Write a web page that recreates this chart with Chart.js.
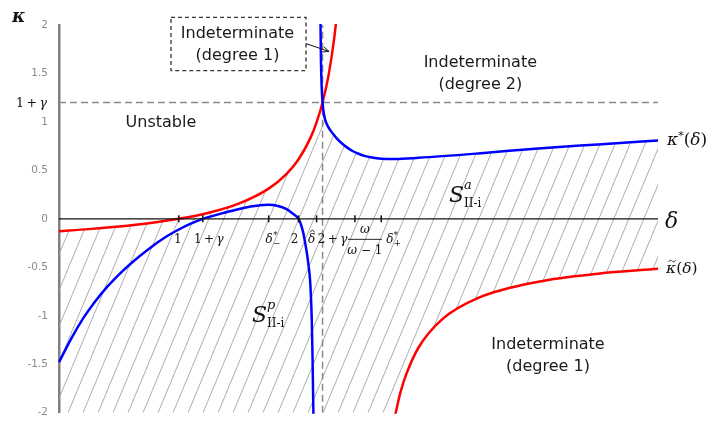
<!DOCTYPE html>
<html>
<head>
<meta charset="utf-8">
<script src="https://cdn.jsdelivr.net/npm/chart.js@4/dist/chart.umd.min.js"></script>
<style>
  html, body { margin: 0; padding: 0; background: #ffffff; }
  canvas { display: block; }
</style>
</head>
<body>
<canvas id="c" width="714" height="430"></canvas>
<script>
// ---- parameters and axis ranges ----
const gamma = 0.2;
const deltaRange = [0, 5];
const kappaRange = [-2, 2];
const yTicks = [-2, -1.5, -1, -0.5, 0, 0.5, 1, 1.5, 2];

// ---- kappa-tilde(delta): branch left of the pole ----
const tildeLeftDelta = [0, 0.25, 0.5, 0.75, 1.0, 1.25, 1.5, 1.75, 1.9, 2.0, 2.1, 2.15, 2.2, 2.25, 2.3, 2.33];
const tildeLeftKappa = [-0.127, -0.106, -0.079, -0.045, 0, 0.063, 0.157, 0.312, 0.465, 0.615, 0.838, 0.995, 1.2, 1.48, 1.89, 2.24];
// ---- kappa-tilde(delta): branch right of the pole ----
const tildeRightDelta = [2.8, 2.85, 2.9, 3.0, 3.2, 3.5, 4.0, 4.5, 5.0];
const tildeRightKappa = [-2.06, -1.79, -1.6, -1.33, -1.035, -0.816, -0.649, -0.566, -0.516];

// ---- kappa*(delta): lower branch ----
const starLowerDelta = [0, 0.1, 0.2, 0.3, 0.4, 0.5, 0.6, 0.76, 0.9, 1.0, 1.1, 1.2, 1.4, 1.55, 1.65, 1.75, 1.82, 1.9, 1.95, 2.0,
  2.02, 2.04, 2.055, 2.07, 2.085, 2.095, 2.103, 2.11, 2.116, 2.121, 2.124, 2.127];
const starLowerKappa = [-1.48, -1.24, -1.03, -0.855, -0.705, -0.575, -0.46, -0.3, -0.18, -0.11, -0.05, 0, 0.07, 0.115, 0.135, 0.145, 0.135, 0.1, 0.055, 0,
  -0.06, -0.15, -0.25, -0.36, -0.5, -0.62, -0.8, -1.05, -1.4, -1.8, -2.05, -2.4];
// ---- kappa*(delta): upper branch ----
const starUpperDelta = [2.18, 2.183, 2.187, 2.193, 2.2, 2.21, 2.225, 2.24, 2.254, 2.27, 2.29, 2.32, 2.36, 2.4, 2.45, 2.5, 2.55, 2.6, 2.69, 2.8, 3.0, 3.5, 4.0, 4.5, 5.0];
const starUpperKappa = [2.7, 2.0, 1.61, 1.35, 1.2, 1.09, 1.01, 0.965, 0.935, 0.905, 0.872, 0.828, 0.78, 0.74, 0.7, 0.672, 0.65, 0.635, 0.62, 0.618, 0.63, 0.675, 0.727, 0.768, 0.808];

// ---- marked points on the delta axis ----
const xTickValues = [1, 1 + gamma, 1.75, 2, 2.15, 2 + gamma, 2.47, 2.69];
const xTickLabels = ['1', '1+γ', 'δ*−', '2', 'δ̂', '2+γ', 'ω/(ω−1)', 'δ*+'];
const xTickMarked = [true, true, true, true, true, false, true, true];
const xLabelShift = [-1, 6, 3, -4, -5, 10, 10, 11];

// ---- region captions (delta, kappa) ----
const captionLines = [
  ['Unstable'],
  ['Indeterminate', '(degree 2)'],
  ['Indeterminate', '(degree 1)'],
  ['Indeterminate', '(degree 1)']
];
const captionDelta = [0.851, 3.517, 4.082, 1.49];
const captionKappa = [0.992, 1.605, -1.301, 1.909];

const SANS = '"DejaVu Sans", Verdana, sans-serif';
const SERIF = '"DejaVu Serif", serif';
const THIN = '\u2009';

const zip = (xs, ys) => xs.map((x, i) => ({ x, y: ys[i] }));
const tildeLeft = zip(tildeLeftDelta, tildeLeftKappa);
const tildeRight = zip(tildeRightDelta, tildeRightKappa);
const starLower = zip(starLowerDelta, starLowerKappa);
const starUpper = zip(starUpperDelta, starUpperKappa);

// boundaries of the shaded (determinate) region
const shadeTop = tildeLeft.filter(p => p.x < 2 + gamma)
  .concat(starUpper.filter(p => p.x >= 2 + gamma));
const shadeBottom = [{ x: deltaRange[0], y: kappaRange[0] }, { x: tildeRightDelta[0], y: kappaRange[0] }]
  .concat(tildeRight.slice(1));

const canvas = document.getElementById('c');
const ctx0 = canvas.getContext('2d');

function hatch() {
  const w = 15, h = 36;
  const c = document.createElement('canvas');
  c.width = w; c.height = h;
  const g = c.getContext('2d');
  g.strokeStyle = '#a3a3a3';
  g.lineWidth = 0.9;
  for (const off of [-w, 0, w]) {
    g.beginPath();
    g.moveTo(off, h);
    g.lineTo(off + w, 0);
    g.stroke();
  }
  return ctx0.createPattern(c, 'repeat');
}

// draw a sequence of text runs: [text, font, dy, advance?]
function runs(ctx, parts, x, y, align) {
  let w = 0;
  for (const p of parts) {
    if (p[3] === false) continue;
    ctx.font = p[1];
    w += ctx.measureText(p[0]).width;
  }
  let cx = align === 'center' ? x - w / 2 : align === 'right' ? x - w : x;
  for (const p of parts) {
    ctx.font = p[1];
    ctx.fillText(p[0], cx, y + (p[2] || 0));
    if (p[3] !== false) cx += ctx.measureText(p[0]).width;
  }
  return cx;
}

const fsx = 12;
const UP = `${fsx}px ${SERIF}`;
const IT = `italic ${fsx}px ${SERIF}`;
const SM = `8.5px ${SERIF}`;

function drawXLabel(ctx, key, cx, base) {
  ctx.textAlign = 'left';
  ctx.textBaseline = 'alphabetic';
  if (key === '1' || key === '2') {
    runs(ctx, [[key, UP]], cx, base, 'center');
  } else if (key === '1+γ' || key === '2+γ') {
    runs(ctx, [[key[0], UP], [THIN + '+' + THIN, UP], ['γ', IT]], cx, base, 'center');
  } else if (key === 'δ̂') {
    ctx.font = IT;
    const w = ctx.measureText('δ').width;
    ctx.fillText('δ', cx - w / 2, base);
    ctx.beginPath();
    ctx.lineWidth = 0.9;
    ctx.moveTo(cx - 1.5, base - 11);
    ctx.lineTo(cx + 0.8, base - 13.5);
    ctx.lineTo(cx + 3, base - 11);
    ctx.stroke();
  } else if (key === 'δ*−' || key === 'δ*+') {
    ctx.font = IT;
    const w = ctx.measureText('δ').width + 5;
    const x0 = cx - w / 2;
    ctx.fillText('δ', x0, base);
    const xs = x0 + ctx.measureText('δ').width + 0.5;
    ctx.font = SM;
    ctx.fillText('*', xs, base - 5);
    ctx.fillText(key[2], xs, base + 3);
  } else if (key === 'ω/(ω−1)') {
    ctx.font = IT;
    const wn = ctx.measureText('ω').width;
    ctx.fillText('ω', cx - wn / 2, base - 10);
    runs(ctx, [['ω', IT], [' − ', UP], ['1', UP]], cx, base + 11, 'center');
    ctx.beginPath();
    ctx.lineWidth = 0.9;
    ctx.moveTo(cx - 17, base - 4);
    ctx.lineTo(cx + 17, base - 4);
    ctx.stroke();
  }
}

const overlay = {
  id: 'overlay',
  afterDatasetsDraw(chart) {
    const { ctx, chartArea: a, scales: { x, y } } = chart;
    ctx.save();
    ctx.fillStyle = '#111';
    ctx.strokeStyle = '#111';

    // delta axis with marked points
    const y0 = y.getPixelForValue(0);
    ctx.beginPath();
    ctx.lineWidth = 1.4;
    ctx.moveTo(x.getPixelForValue(deltaRange[0]), y0);
    ctx.lineTo(x.getPixelForValue(deltaRange[1]), y0);
    ctx.stroke();
    xTickValues.forEach((v, i) => {
      const px = x.getPixelForValue(v);
      if (xTickMarked[i]) {
        ctx.beginPath();
        ctx.lineWidth = 1.5;
        ctx.moveTo(px, y0 - 3.5);
        ctx.lineTo(px, y0 + 3.5);
        ctx.stroke();
      }
      drawXLabel(ctx, xTickLabels[i], px + xLabelShift[i], y0 + 24.5);
    });

    // axis names
    ctx.textAlign = 'left';
    ctx.textBaseline = 'alphabetic';
    ctx.font = `bold italic 18px ${SERIF}`;
    ctx.fillText('κ', a.left - 47, a.top - 3);
    ctx.font = `italic 22px ${SERIF}`;
    ctx.fillText('δ', a.right + 7, y0 + 9);

    // 1 + gamma on the kappa axis
    runs(ctx, [['1', `12.5px ${SERIF}`], [THIN + '+' + THIN, `12.5px ${SERIF}`], ['γ', `italic 12.5px ${SERIF}`]],
      a.left - 12, y.getPixelForValue(1 + gamma) + 4.5, 'right');

    // curve names
    const ks = y.getPixelForValue(starUpperKappa[starUpperKappa.length - 1]);
    runs(ctx, [['κ', `italic 17px ${SERIF}`], ['*', `11px ${SERIF}`, -6], ['(', `17px ${SERIF}`],
      ['δ', `italic 17px ${SERIF}`], [')', `17px ${SERIF}`]], a.right + 9, ks + 4, 'left');
    const kt = y.getPixelForValue(tildeRightKappa[tildeRightKappa.length - 1]);
    const kx = a.right + 8;
    ctx.font = `italic 15.5px ${SERIF}`;
    const kw = ctx.measureText('κ').width;
    runs(ctx, [['κ', `italic 15.5px ${SERIF}`], ['(', `15.5px ${SERIF}`],
      ['δ', `italic 15.5px ${SERIF}`], [')', `15.5px ${SERIF}`]], kx, kt + 4.5, 'left');
    ctx.beginPath();
    ctx.lineWidth = 0.9;
    const tx = kx + kw / 2 + 1, ty = kt - 7;
    ctx.moveTo(tx - 3.5, ty);
    ctx.bezierCurveTo(tx - 2, ty - 2.5, tx - 0.5, ty - 1.5, tx, ty - 0.8);
    ctx.bezierCurveTo(tx + 0.8, ty, tx + 2, ty + 1, tx + 3.5, ty - 1.8);
    ctx.stroke();

    // region names S
    const sLabel = (d, k, sup) => {
      const sx = x.getPixelForValue(d), sy = y.getPixelForValue(k);
      ctx.font = `italic 22px ${SERIF}`;
      ctx.fillText('S', sx, sy);
      const nx = sx + ctx.measureText('S').width;
      ctx.font = `italic 13px ${SERIF}`;
      ctx.fillText(sup, nx, sy - 13);
      ctx.font = `12px ${SERIF}`;
      ctx.fillText('II-i', nx, sy + 5);
    };
    sLabel(3.255, 0.177, 'a');
    sLabel(1.611, -1.068, 'p');

    // captions
    ctx.fillStyle = '#1a1a1a';
    ctx.font = `16px ${SANS}`;
    ctx.textAlign = 'center';
    ctx.textBaseline = 'middle';
    captionLines.forEach((lines, i) => {
      const cx = x.getPixelForValue(captionDelta[i]);
      const cy = y.getPixelForValue(captionKappa[i]);
      lines.forEach((t, j) => ctx.fillText(t, cx, cy + j * 22));
    });

    // dashed frame with pointer into the narrow wedge
    const bx0 = x.getPixelForValue(0.935), bx1 = x.getPixelForValue(2.062);
    const by0 = y.getPixelForValue(2.078), by1 = y.getPixelForValue(1.529);
    ctx.strokeStyle = '#333';
    ctx.lineWidth = 1.3;
    ctx.setLineDash([4, 3]);
    ctx.strokeRect(bx0, by0, bx1 - bx0, by1 - by0);
    ctx.setLineDash([]);
    const ax0 = bx1, ay0 = y.getPixelForValue(1.808);
    const ax1 = x.getPixelForValue(2.254), ay1 = y.getPixelForValue(1.727);
    ctx.strokeStyle = '#111';
    ctx.lineWidth = 1;
    ctx.beginPath();
    ctx.moveTo(ax0, ay0);
    ctx.lineTo(ax1, ay1);
    const ang = Math.atan2(ay1 - ay0, ax1 - ax0);
    ctx.moveTo(ax1 - 7 * Math.cos(ang - 0.4), ay1 - 7 * Math.sin(ang - 0.4));
    ctx.lineTo(ax1, ay1);
    ctx.lineTo(ax1 - 7 * Math.cos(ang + 0.4), ay1 - 7 * Math.sin(ang + 0.4));
    ctx.stroke();
    ctx.restore();
  }
};

const curve = (data, color) => ({
  data, borderColor: color, borderWidth: 2.5, pointRadius: 0, fill: false,
  cubicInterpolationMode: 'monotone', clip: 1
});
const dashed = (data) => ({
  data, borderColor: '#8a8a8a', borderWidth: 1.5, borderDash: [7, 4], pointRadius: 0,
  fill: false, tension: 0
});

new Chart(canvas, {
  type: 'line',
  data: {
    datasets: [
      curve(starUpper, '#0000ff'),
      curve(starLower, '#0000ff'),
      curve(tildeLeft, '#ff0000'),
      curve(tildeRight, '#ff0000'),
      dashed([{ x: deltaRange[0], y: 1 + gamma }, { x: deltaRange[1], y: 1 + gamma }]),
      dashed([{ x: 2 + gamma, y: kappaRange[0] }, { x: 2 + gamma, y: kappaRange[1] }]),
      {
        data: shadeTop, borderWidth: 0, borderColor: 'rgba(0,0,0,0)', pointRadius: 0,
        backgroundColor: hatch(), fill: '+1', cubicInterpolationMode: 'monotone'
      },
      {
        data: shadeBottom, borderWidth: 0, borderColor: 'rgba(0,0,0,0)', pointRadius: 0,
        fill: false, cubicInterpolationMode: 'monotone'
      }
    ]
  },
  options: {
    responsive: false,
    animation: false,
    devicePixelRatio: 1,
    layout: { padding: { left: 0, right: 56, top: 25, bottom: 10 } },
    plugins: { legend: { display: false }, tooltip: { enabled: false } },
    scales: {
      x: { type: 'linear', min: deltaRange[0], max: deltaRange[1], display: false },
      y: {
        type: 'linear', min: kappaRange[0], max: kappaRange[1],
        afterBuildTicks: s => { s.ticks = yTicks.map(v => ({ value: v })); },
        afterFit: s => { s.width = 59; },
        grid: { display: false, drawTicks: false },
        border: { color: '#808080', width: 2.5 },
        ticks: {
          color: '#8a8a8a', padding: 11,
          font: { family: 'DejaVu Sans', size: 10.5 },
          callback: v => String(v)
        }
      }
    }
  },
  plugins: [overlay]
});
</script>
</body>
</html>
